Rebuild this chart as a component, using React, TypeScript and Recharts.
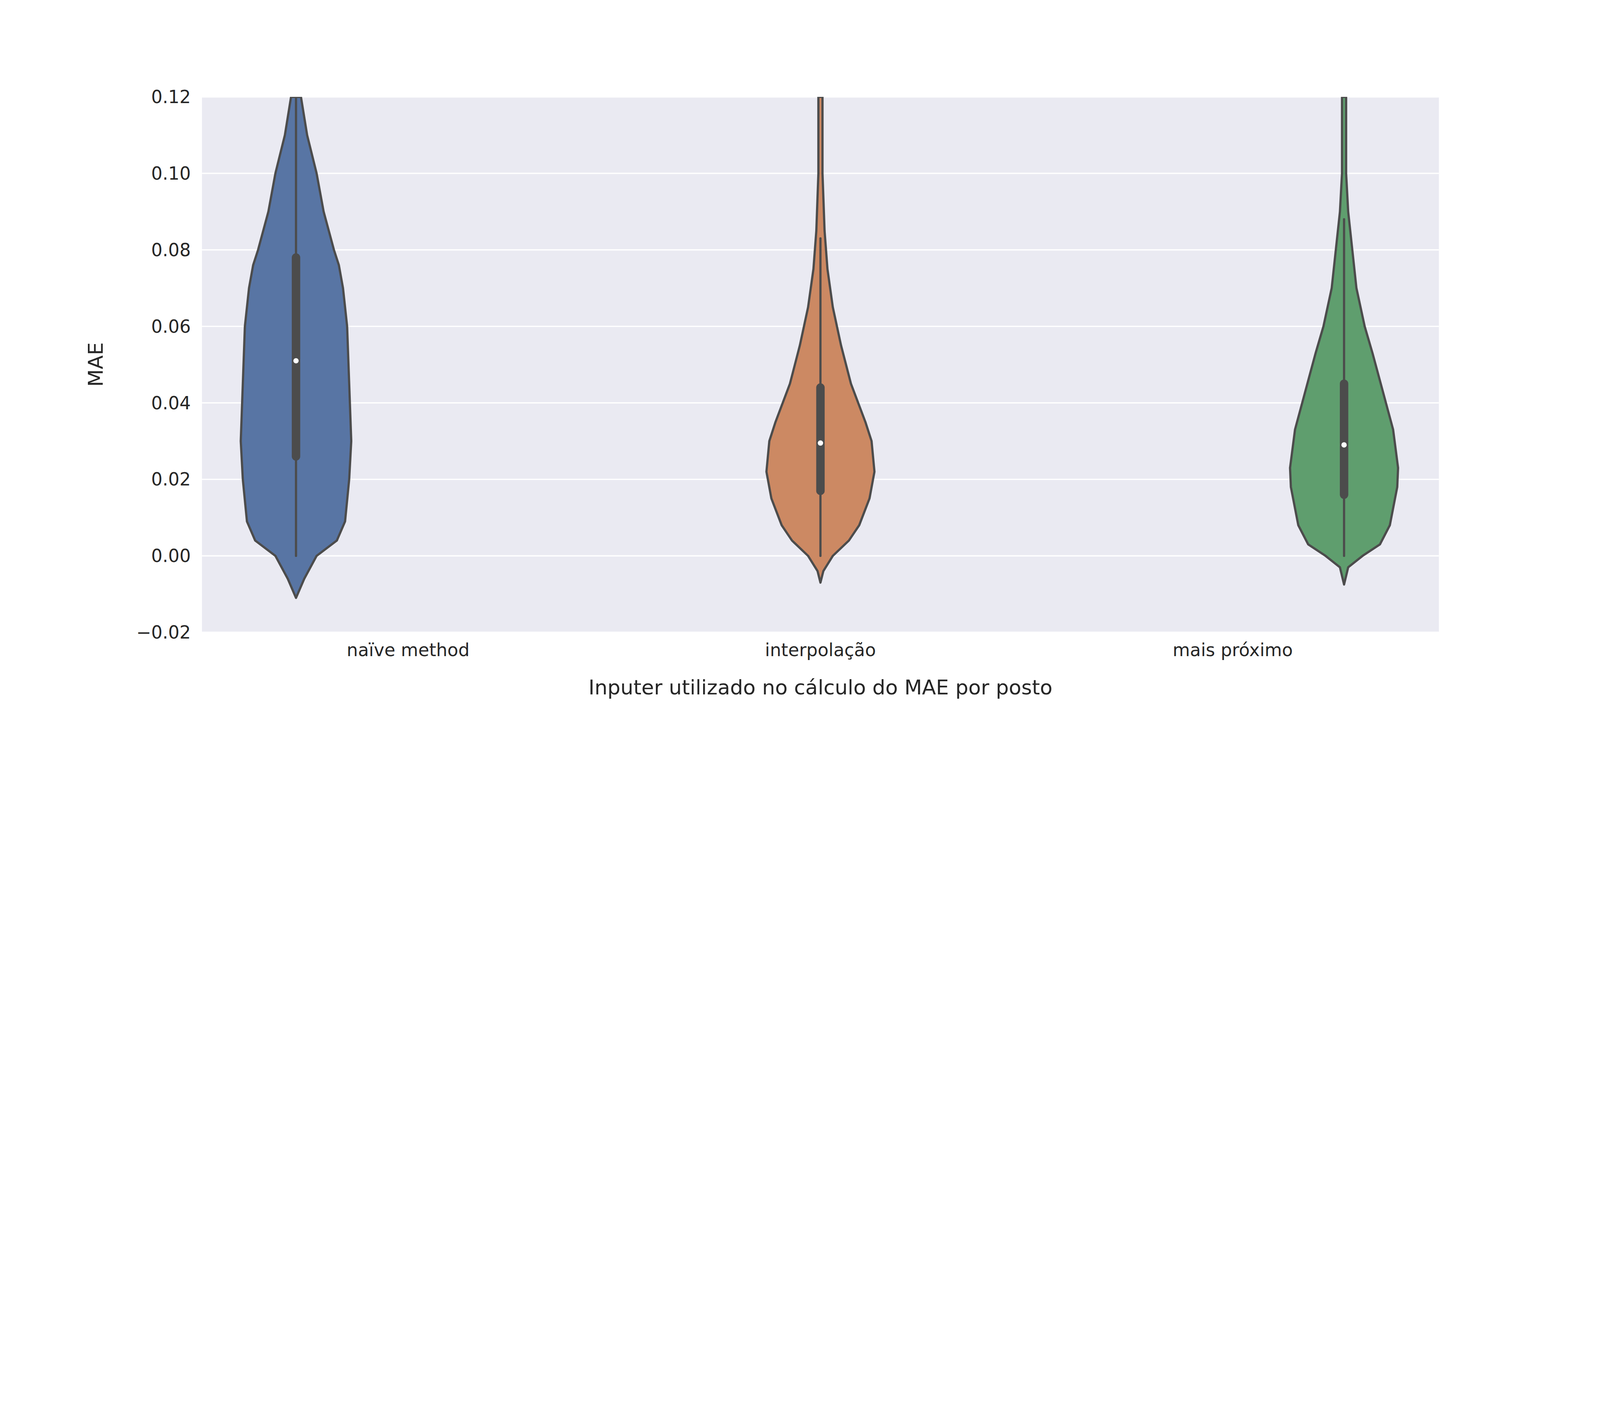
import { CartesianGrid, ComposedChart, Scatter, XAxis, YAxis, Label } from 'recharts';

const categories = ['naïve method', 'interpolação', 'mais próximo'];
const violinCenters = [0.228, 1.5, 2.77];
const colors = ['#5875a4', '#cc8963', '#5f9e6e'];

const naiveY = [-0.011, -0.006, 0, 0.004, 0.009, 0.02, 0.03, 0.045, 0.06, 0.07, 0.076, 0.08, 0.09, 0.1, 0.11, 0.12];
const naiveHalf = [0, 0.02, 0.05, 0.099, 0.119, 0.129, 0.134, 0.129, 0.124, 0.114, 0.104, 0.092, 0.067, 0.05, 0.027, 0.012];
const interpY = [-0.007, -0.004, 0, 0.004, 0.008, 0.015, 0.022, 0.03, 0.035, 0.045, 0.055, 0.065, 0.075, 0.085, 0.1, 0.12];
const interpHalf = [0, 0.007, 0.03, 0.069, 0.094, 0.119, 0.131, 0.124, 0.109, 0.074, 0.05, 0.03, 0.017, 0.01, 0.005, 0.005];
const nearY = [-0.0075, -0.003, 0, 0.003, 0.008, 0.018, 0.023, 0.033, 0.043, 0.053, 0.06, 0.07, 0.08, 0.09, 0.1, 0.12];
const nearHalf = [0, 0.01, 0.045, 0.087, 0.111, 0.129, 0.131, 0.119, 0.094, 0.069, 0.05, 0.03, 0.02, 0.01, 0.005, 0.005];

const q1 = [0.026, 0.017, 0.016];
const q3 = [0.078, 0.044, 0.045];
const medians = [0.051, 0.0295, 0.029];
const whiskerLow = [0, 0, 0];
const whiskerHigh = [0.12, 0.083, 0.088];

const yTicks = [-0.02, 0, 0.02, 0.04, 0.06, 0.08, 0.1, 0.12];

const profiles = [
  [naiveY, naiveHalf],
  [interpY, interpHalf],
  [nearY, nearHalf],
];

const violins = profiles.map(([ys, hs], i) => {
  const c = violinCenters[i];
  const right = ys.map((y, k) => ({ x: c + hs[k], y }));
  const left = ys.map((y, k) => ({ x: c - hs[k], y })).reverse();
  return [...right, ...left];
});

const EDGE = '#4c4c4c';

const fmt = (v: number) => (v < 0 ? '\u2212' : '') + Math.abs(v).toFixed(2);

export default function App() {
  // fit the 7200x3600 design into whatever viewport we actually get
  const vw = typeof window !== 'undefined' ? window.innerWidth : 7200;
  const vh = typeof window !== 'undefined' ? window.innerHeight : 3600;
  const k = Math.min(vw / 7200, vh / 3600, 1);
  const W = 7200 * k;
  const H = 3600 * k;

  const polygon = (fill: string) => (p: any) => {
    const pts = p.points || [];
    if (!pts.length) return <g />;
    const d = pts.map((q: any, n: number) => `${n ? 'L' : 'M'}${q.x},${q.y}`).join(' ') + ' Z';
    return <path d={d} fill={fill} stroke={EDGE} strokeWidth={10 * k} strokeLinejoin="round" />;
  };

  const segment = (width: number) => (p: any) => {
    const pts = p.points || [];
    if (pts.length < 2) return <g />;
    return (
      <line x1={pts[0].x} y1={pts[0].y} x2={pts[1].x} y2={pts[1].y} stroke={EDGE} strokeWidth={width * k} strokeLinecap="round" />
    );
  };

  const noDot = () => <g />;
  const whiteDot = (p: any) => <circle cx={p.cx} cy={p.cy} r={12 * k} fill="#ffffff" />;

  return (
    <div style={{ position: 'absolute', left: 0, top: 0, background: '#fff' }}>
      <ComposedChart
        width={W}
        height={H}
        margin={{ top: 436 * k, right: 725 * k, bottom: 454 * k, left: 609 * k }}
        style={{ fontFamily: 'DejaVu Sans, Arial, sans-serif' }}
      >
        <CartesianGrid vertical={false} fill="#eaeaf2" stroke="#ffffff" strokeWidth={6 * k} />
        <XAxis
          type="number"
          dataKey="x"
          domain={[0, 3]}
          ticks={[0.5, 1.5, 2.5]}
          tickFormatter={(v: number) => categories[Math.round(v - 0.5)]}
          axisLine={false}
          tickLine={false}
          tick={{ fontSize: 80 * k, fill: '#262626' }}
          tickMargin={40 * k}
          height={300 * k}
          allowDataOverflow
        >
          <Label
            value="Inputer utilizado no cálculo do MAE por posto"
            position="insideBottom"
            offset={20 * k}
            style={{ fontSize: 92 * k, fill: '#262626' }}
          />
        </XAxis>
        <YAxis
          type="number"
          dataKey="y"
          domain={[-0.02, 0.12]}
          ticks={yTicks}
          tickFormatter={fmt}
          axisLine={false}
          tickLine={false}
          tick={{ fontSize: 80 * k, fill: '#262626' }}
          tickMargin={40 * k}
          width={300 * k}
          allowDataOverflow
        >
          <Label
            value="MAE"
            angle={-90}
            position="insideLeft"
            offset={-180 * k}
            style={{ fontSize: 92 * k, fill: '#262626', textAnchor: 'middle' }}
          />
        </YAxis>
        {violins.map((v, i) => (
          <Scatter key={`v${i}`} data={v} line={polygon(colors[i])} shape={noDot} isAnimationActive={false} />
        ))}
        {violinCenters.map((c, i) => (
          <Scatter
            key={`w${i}`}
            data={[{ x: c, y: whiskerLow[i] }, { x: c, y: whiskerHigh[i] }]}
            line={segment(10)}
            shape={noDot}
            isAnimationActive={false}
          />
        ))}
        {violinCenters.map((c, i) => (
          <Scatter
            key={`b${i}`}
            data={[{ x: c, y: q1[i] }, { x: c, y: q3[i] }]}
            line={segment(38)}
            shape={noDot}
            isAnimationActive={false}
          />
        ))}
        <Scatter data={violinCenters.map((c, i) => ({ x: c, y: medians[i] }))} shape={whiteDot} isAnimationActive={false} />
      </ComposedChart>
    </div>
  );
}
